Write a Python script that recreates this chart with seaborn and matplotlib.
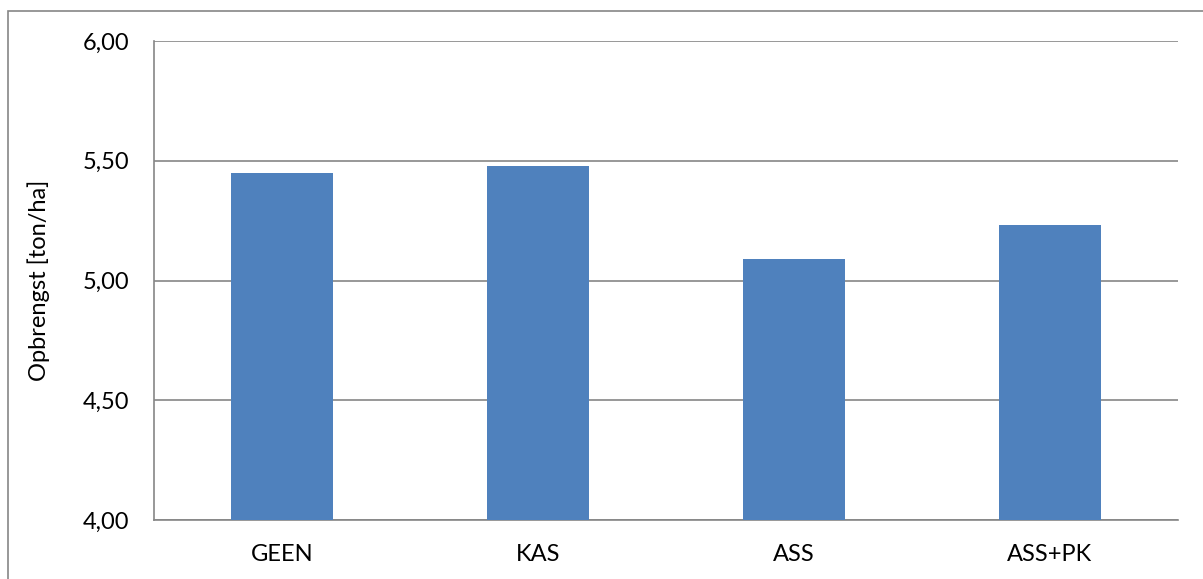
import matplotlib
matplotlib.use("Agg")
import matplotlib.pyplot as plt
import seaborn as sns
import pandas as pd
from matplotlib.patches import Rectangle
from matplotlib.ticker import FuncFormatter

# Yield per fertiliser treatment
categories = ["GEEN", "KAS", "ASS", "ASS+PK"]
yields = [5.45, 5.48, 5.09, 5.23]
y_ticks = [4.00, 4.50, 5.00, 5.50, 6.00]

df = pd.DataFrame({"behandeling": categories, "opbrengst": yields})

sns.set_theme(style="white")
plt.rcParams["font.family"] = ["Lato", "DejaVu Sans"]

fig = plt.figure(figsize=(12.03, 5.79), dpi=100)
ax = fig.add_axes([154 / 1203, 1 - 520 / 579, (1178 - 154) / 1203, (520 - 41) / 579])

sns.barplot(data=df, x="behandeling", y="opbrengst", color="#4F81BD",
            saturation=1, width=0.4, ax=ax, zorder=3, linewidth=0,
            edgecolor="none")
# Bars start at the axis floor (4,00)
for bar, v in zip(ax.patches, yields):
    bar.set_y(4.0)
    bar.set_height(v - 4.0)

ax.set_ylim(4.0, 6.0)
ax.set_yticks(y_ticks)
ax.yaxis.set_major_formatter(FuncFormatter(lambda v, _: f"{v:.2f}".replace(".", ",")))
ax.yaxis.grid(True, color="#868686", linewidth=1.2, zorder=0)
ax.xaxis.grid(False)

for side in ["top", "right"]:
    ax.spines[side].set_visible(False)
for side in ["left", "bottom"]:
    ax.spines[side].set_color("#868686")
    ax.spines[side].set_linewidth(1.2)

ax.tick_params(axis="y", length=0, pad=18, labelsize=17, labelcolor="black")
ax.tick_params(axis="x", length=0, pad=17, labelsize=17, labelcolor="black")
ax.set_xlabel("")
ax.set_ylabel("Opbrengst [ton/ha]", fontsize=17, labelpad=23, color="black")

# Chart area frame
fig.patches.append(Rectangle((8 / 1203, -0.05), 1.1, 1 - 11 / 579 + 0.05,
                             transform=fig.transFigure, fill=False,
                             edgecolor="#868686", linewidth=1.2))

fig.savefig("out.png", dpi=100, facecolor="white")
